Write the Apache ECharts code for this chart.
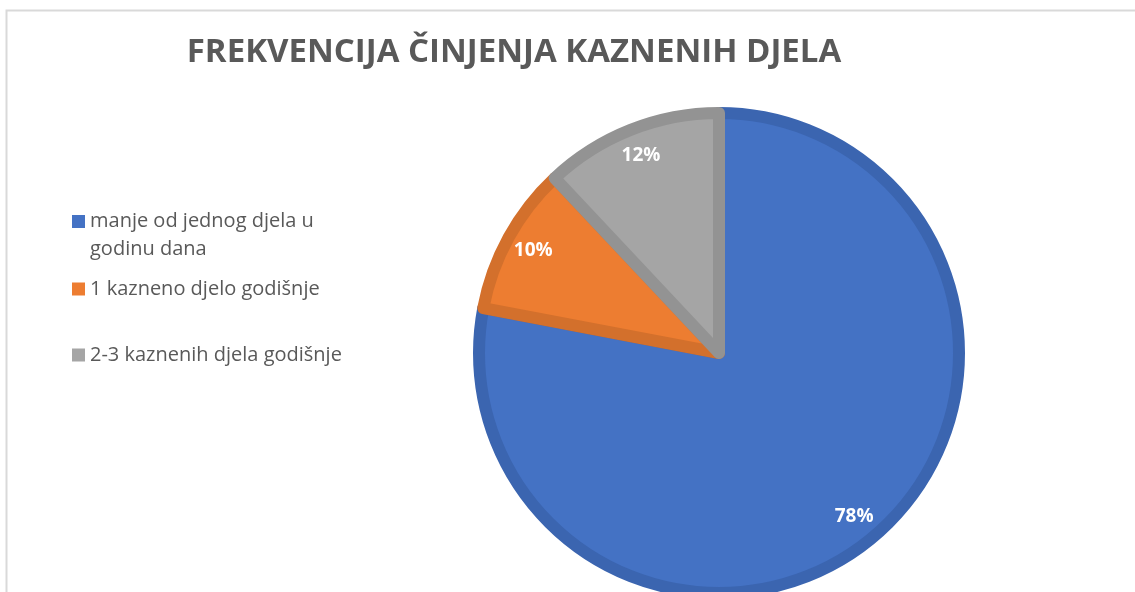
<!DOCTYPE html>
<html>
<head>
<meta charset="utf-8">
<title>Frekvencija činjenja kaznenih djela</title>
<script src="https://cdn.jsdelivr.net/npm/echarts@6/dist/echarts.min.js"></script>
<style>
    html, body { margin: 0; padding: 0; background: #fff; }
    #chart { width: 1135px; height: 592px; }
</style>
</head>
<body>
<div id="chart"></div>
<script>
var categories = ['manje od jednog djela u\ngodinu dana', '1 kazneno djelo godišnje', '2-3 kaznenih djela godišnje'];
var shares = [78, 10, 12];
var fills = ['#4472C4', '#ED7D31', '#A5A5A5'];
var edges = ['#3B65B0', '#D3702C', '#939393'];

var chart = echarts.init(document.getElementById('chart'));

var pieData = categories.map(function (name, i) {
    return {
        name: name,
        value: shares[i],
        itemStyle: { color: fills[i], borderColor: edges[i] }
    };
});
// transparent ring only used to place the labels near the rim
var labelData = categories.map(function (name, i) {
    return { name: name, value: shares[i] };
});

// one legend per entry, Excel spaces them unevenly
var legendTops = [207, 275, 341];
var legends = categories.map(function (name, i) {
    var twoLines = name.indexOf('\n') >= 0;
    return {
        data: [name],
        left: 72,
        top: legendTops[i],
        padding: 0,
        orient: 'vertical',
        // square pinned to the first text line
        icon: twoLines ? 'path://M0,0h13v13h-13z M0,40h0.01' : 'rect',
        itemWidth: 13,
        itemHeight: twoLines ? 40 : 13,
        itemStyle: { borderWidth: 0 },
        selectedMode: false,
        textStyle: {
            fontFamily: 'Open Sans',
            fontSize: 20,
            color: '#595959',
            lineHeight: 28
        }
    };
});

chart.setOption({
    animation: false,
    title: {
        text: 'FREKVENCIJA ČINJENJA KAZNENIH DJELA',
        left: 514,
        top: 36,
        padding: 0,
        textAlign: 'center',
        textStyle: {
            fontFamily: 'Open Sans',
            fontWeight: 'bold',
            fontSize: 33,
            color: '#595959'
        }
    },
    legend: legends,
    graphic: [{
        type: 'rect',
        shape: { x: 6.5, y: 10.5, width: 1140, height: 600 },
        style: { fill: 'none', stroke: '#d9d9d9', lineWidth: 2 },
        silent: true
    }],
    series: [
        {
            type: 'pie',
            center: [719, 353],
            radius: 240,
            startAngle: 90,
            clockwise: true,
            silent: true,
            itemStyle: { borderWidth: 12 },
            label: { show: false },
            labelLine: { show: false },
            data: pieData
        },
        {
            type: 'pie',
            center: [719, 353],
            radius: [168, 250],
            startAngle: 90,
            clockwise: true,
            silent: true,
            itemStyle: { color: 'transparent' },
            label: {
                show: true,
                position: 'inside',
                formatter: '{c}%',
                fontFamily: 'Open Sans',
                fontWeight: 'bold',
                fontSize: 19,
                color: '#fff'
            },
            labelLine: { show: false },
            data: labelData
        }
    ]
});
</script>
</body>
</html>
